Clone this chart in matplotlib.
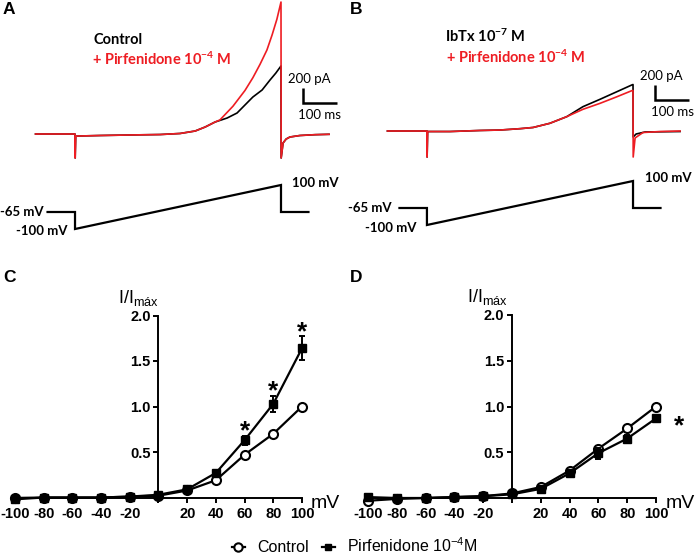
"""Pirfenidone on BK currents: ramp traces (A, B) and normalized I-V curves (C, D)."""

import numpy as np
import matplotlib
matplotlib.use("Agg")
import matplotlib.pyplot as plt
from matplotlib.lines import Line2D

W, H = 700, 554
RED = "#ee1d23"

# ---- ramp current traces (time in ms from ramp onset, current in pA) ----
A_CTRL_T = [-115, 0, 0.5, 2, 9, 73, 160, 248, 306, 350, 379, 408, 443, 472,
            518, 545, 568, 585, 600, 600.5, 606, 615, 626, 655, 699, 740]
A_CTRL_I = [0, 0, -320, -30, -27, -20, -13, -7, 7, 40, 93, 160, 213, 280,
            493, 587, 720, 813, 907, -320, -120, -67, -40, -20, -9, -4]
A_PIRF_T = [-115, 0, 0.5, 2, 9, 73, 160, 248, 306, 350, 379, 408, 422, 460,
            495, 518, 539, 559, 574, 588, 600, 600.5, 606, 615, 626, 655, 699, 740]
A_PIRF_I = [0, 0, -320, -30, -27, -20, -13, -7, 7, 40, 93, 160, 187, 370,
            580, 750, 930, 1120, 1320, 1530, 1760, -320, -120, -67, -40, -20, -9, -4]

B_CTRL_T = [-115, 0, 0.5, 2, 67, 154, 213, 271, 309, 358, 407, 454, 504, 551,
            596, 600, 600.5, 609, 635, 737]
B_CTRL_I = [0, 0, -347, -7, -7, 7, 13, 31, 47, 103, 191, 324, 423, 520,
            613, 620, -80, -40, -13, -7]
B_PIRF_T = [-115, 0, 0.5, 2, 67, 154, 213, 271, 309, 358, 407, 454, 504, 551,
            596, 600, 600.5, 606, 629, 679, 737]
B_PIRF_I = [0, 0, -347, -7, -7, 7, 13, 31, 47, 103, 191, 289, 369, 453,
            537, 540, -347, -93, -20, -7, 0]

# voltage protocol
PROTO_T = [-80, 0, 0, 600, 600, 680]
PROTO_V = [-65, -65, -100, 100, -65, -65]

# ---- normalized I-V data ----
VOLT = [-100, -80, -60, -40, -20, 0, 20, 40, 60, 80, 100]
C_CTRL = [-0.005, 0.0, 0.0, 0.0, 0.01, 0.02, 0.077, 0.19, 0.47, 0.70, 1.0]
C_CTRL_ERR = [0.01, 0.01, 0.01, 0.01, 0.01, 0.01, 0.01, 0.02, 0.02, 0.02, 0.0]
C_PIRF = [-0.02, 0.0, 0.0, 0.0, 0.01, 0.03, 0.09, 0.27, 0.63, 1.03, 1.64]
C_PIRF_ERR = [0.01, 0.01, 0.01, 0.01, 0.01, 0.01, 0.02, 0.03, 0.05, 0.09, 0.13]
C_SIG = [60, 80, 100]

D_CTRL = [-0.03, -0.01, 0.0, 0.01, 0.02, 0.05, 0.12, 0.30, 0.54, 0.76, 1.0]
D_CTRL_ERR = [0.01, 0.01, 0.01, 0.01, 0.01, 0.01, 0.02, 0.02, 0.03, 0.03, 0.0]
D_PIRF = [0.01, 0.0, 0.0, 0.01, 0.02, 0.04, 0.10, 0.27, 0.49, 0.65, 0.87]
D_PIRF_ERR = [0.01, 0.01, 0.01, 0.01, 0.01, 0.01, 0.02, 0.03, 0.06, 0.04, 0.04]

XTICKS = [-100, -80, -60, -40, -20, 0, 20, 40, 60, 80, 100]
XTICKLABELS = ["-100", "-80", "-60", "-40", "-20", "", "20", "40", "60", "80", "100"]
YTICKS = [0.5, 1.0, 1.5, 2.0]
YTICKLABELS = ["0.5", "1.0", "1.5", "2.0"]

plt.rcParams.update({
    "font.family": ["Liberation Sans", "DejaVu Sans"],
    "mathtext.fontset": "custom",
    "mathtext.rm": "Liberation Sans",
    "mathtext.it": "Liberation Sans:italic",
    "mathtext.bf": "Lato:bold",
})

fig = plt.figure(figsize=(W / 100, H / 100), dpi=100)


def px_rect(x, y, w, h):
    return [x / W, 1 - (y + h) / H, w / W, h / H]


# schematic (non-linear) voltage axis, as drawn in the figure
V_KNOTS = [-200, -100, -65, 100, 300]
M_KNOTS = [-48.6, 0, 17, 44, 76.7]


def v_fwd(v):
    return np.interp(v, V_KNOTS, M_KNOTS)


def v_inv(m):
    return np.interp(m, M_KNOTS, V_KNOTS)


def trace_panel(rect, xlim, ylim, ctrl, pirf):
    ax = fig.add_axes(rect)
    ax.plot(*ctrl, color="black", lw=1.2, clip_on=False)
    ax.plot(*pirf, color=RED, lw=1.2, clip_on=False)
    # scale bar 100 ms / 200 pA
    t0, i0 = 664, 410
    ax.plot([t0, t0, t0 + 100], [i0 + 200, i0, i0], color="black", lw=1.8,
            solid_joinstyle="miter", solid_capstyle="butt")
    ax.annotate("200 pA", xy=(t0, i0 + 200), xytext=(6, 9), textcoords="offset pixels",
                ha="center", va="center", fontsize=9.5, family="Lato")
    ax.annotate("100 ms", xy=(t0, i0), xytext=(17, -12), textcoords="offset pixels",
                ha="center", va="center", fontsize=9.5, family="Lato")
    ax.set_xlim(*xlim)
    ax.set_ylim(*ylim)
    ax.axis("off")
    return ax


def protocol_panel(rect, xlim, off65, off100, off_top):
    ax = fig.add_axes(rect)
    ax.set_yscale("function", functions=(v_fwd, v_inv))
    ax.plot(PROTO_T, PROTO_V, color="black", lw=1.6, clip_on=False,
            solid_joinstyle="miter")
    ax.set_xlim(*xlim)
    ax.set_ylim(v_inv(-15), v_inv(55))
    ax.axis("off")
    kw = dict(textcoords="offset pixels", va="center", fontsize=9.5,
              fontweight="bold", family="Lato")
    ax.annotate("-65 mV", xy=(PROTO_T[0], PROTO_V[0]), xytext=off65, ha="right", **kw)
    ax.annotate("-100 mV", xy=(PROTO_T[2], PROTO_V[2]), xytext=off100, ha="right", **kw)
    ax.annotate("100 mV", xy=(PROTO_T[3], PROTO_V[3]), xytext=off_top, ha="left", **kw)
    return ax


trace_panel(px_rect(0, 0, 350, 170), (-218.5, 801), (-480, 1787),
            (A_CTRL_T, A_CTRL_I), (A_PIRF_T, A_PIRF_I))
trace_panel(px_rect(350, 0, 350, 170), (-224, 795), (-520, 1747),
            (B_CTRL_T, B_CTRL_I), (B_PIRF_T, B_PIRF_I))
protocol_panel(px_rect(0, 174, 350, 70), (-218.5, 801), (-4, 0), (-8, -2), (11, 2))
protocol_panel(px_rect(350, 170, 350, 70), (-224, 795), (-8, 0), (-10, -3), (12, 3))

# trace legends
fig.text(93 / W, 1 - 40 / H, "Control", fontsize=10.5, fontweight="bold",
         family="Lato", va="center")
fig.text(92 / W, 1 - 59 / H, r"+ Pirfenidone 10$^{\mathbf{-4}}$ M", fontsize=10.5,
         fontweight="bold", family="Lato", va="center", color=RED)
fig.text(445 / W, 1 - 36 / H, r"IbTx 10$^{\mathbf{-7}}$ M", fontsize=10.5,
         fontweight="bold", family="Lato", va="center")
fig.text(446 / W, 1 - 57 / H, r"+ Pirfenidone 10$^{\mathbf{-4}}$ M", fontsize=10.5,
         fontweight="bold", family="Lato", va="center", color=RED)


def iv_panel(rect, ctrl, ctrl_err, pirf, pirf_err, ylab_dx, mv_dx):
    ax = fig.add_axes(rect)
    ax.set_xlim(-100, 100)
    ax.set_ylim(0, 2.0)
    common = dict(color="black", lw=1.6, elinewidth=1.4, capthick=1.4,
                  capsize=2.5, clip_on=False)
    cont = ax.errorbar(VOLT, ctrl, yerr=ctrl_err, marker="o", ms=6.5, mfc="white",
                       mec="black", mew=1.5, zorder=3, **common)
    cont2 = ax.errorbar(VOLT, pirf, yerr=pirf_err, marker="s", ms=5.5, mfc="black",
                        mec="black", zorder=4, **common)
    for c in (cont, cont2):
        for art in c.get_children():
            art.set_clip_on(False)
    for side in ("top", "right"):
        ax.spines[side].set_visible(False)
    ax.spines["left"].set_position(("data", 0))
    for side in ("left", "bottom"):
        ax.spines[side].set_linewidth(1.4)
    ax.set_xticks(XTICKS)
    ax.set_xticklabels(XTICKLABELS, fontweight="bold", fontsize=10.5)
    ax.set_yticks(YTICKS)
    ax.set_yticklabels(YTICKLABELS, fontweight="bold", fontsize=10.5)
    ax.tick_params(direction="out", length=3.5, width=1.4, pad=2)
    ax.tick_params(axis="x", pad=3)
    ax.patch.set_visible(False)
    ax.annotate(r"I/I$_{\mathrm{máx}}$", xy=(0, 2.0), xytext=(ylab_dx, 8),
                textcoords="offset pixels", ha="right", va="bottom", fontsize=13)
    ax.annotate("mV", xy=(100, 0), xytext=(mv_dx, -6), textcoords="offset pixels",
                ha="left", va="center", fontsize=14)
    return ax


axC = iv_panel(px_rect(15, 315.5, 287, 182), C_CTRL, C_CTRL_ERR, C_PIRF, C_PIRF_ERR, 0, 9)
for v in C_SIG:
    k = VOLT.index(v)
    axC.annotate("*", xy=(v, C_PIRF[k] + C_PIRF_ERR[k]), xytext=(0, 4),
                 textcoords="offset pixels", ha="center", va="center",
                 fontsize=19, fontweight="bold")

axD = iv_panel(px_rect(368, 315, 288, 183), D_CTRL, D_CTRL_ERR, D_PIRF, D_PIRF_ERR, -4, 10)
axD.annotate("*", xy=(100, D_PIRF[-1]), xytext=(23, -8), textcoords="offset pixels",
             ha="center", va="center", fontsize=19, fontweight="bold")

# panel letters
for letter, (x, y) in {"A": (9, 10), "B": (356, 10), "C": (10, 277), "D": (356, 277)}.items():
    fig.text(x / W, 1 - y / H, letter, fontsize=12.5, fontweight="bold",
             ha="center", va="center")

# bottom legend
handles = [
    Line2D([], [], color="black", lw=1.6, marker="o", ms=6, mfc="white", mec="black", mew=1.5),
    Line2D([], [], color="black", lw=1.6, marker="s", ms=5, mfc="black", mec="black"),
]
fig.legend(handles, ["Control", r"Pirfenidone 10$^{-4}$M"], loc="center",
           bbox_to_anchor=(355 / W, 1 - 546 / H), ncol=2, frameon=False,
           handlelength=0.8, handletextpad=0.8, columnspacing=0.8, fontsize=11.5)

fig.savefig("out.png", dpi=100)
